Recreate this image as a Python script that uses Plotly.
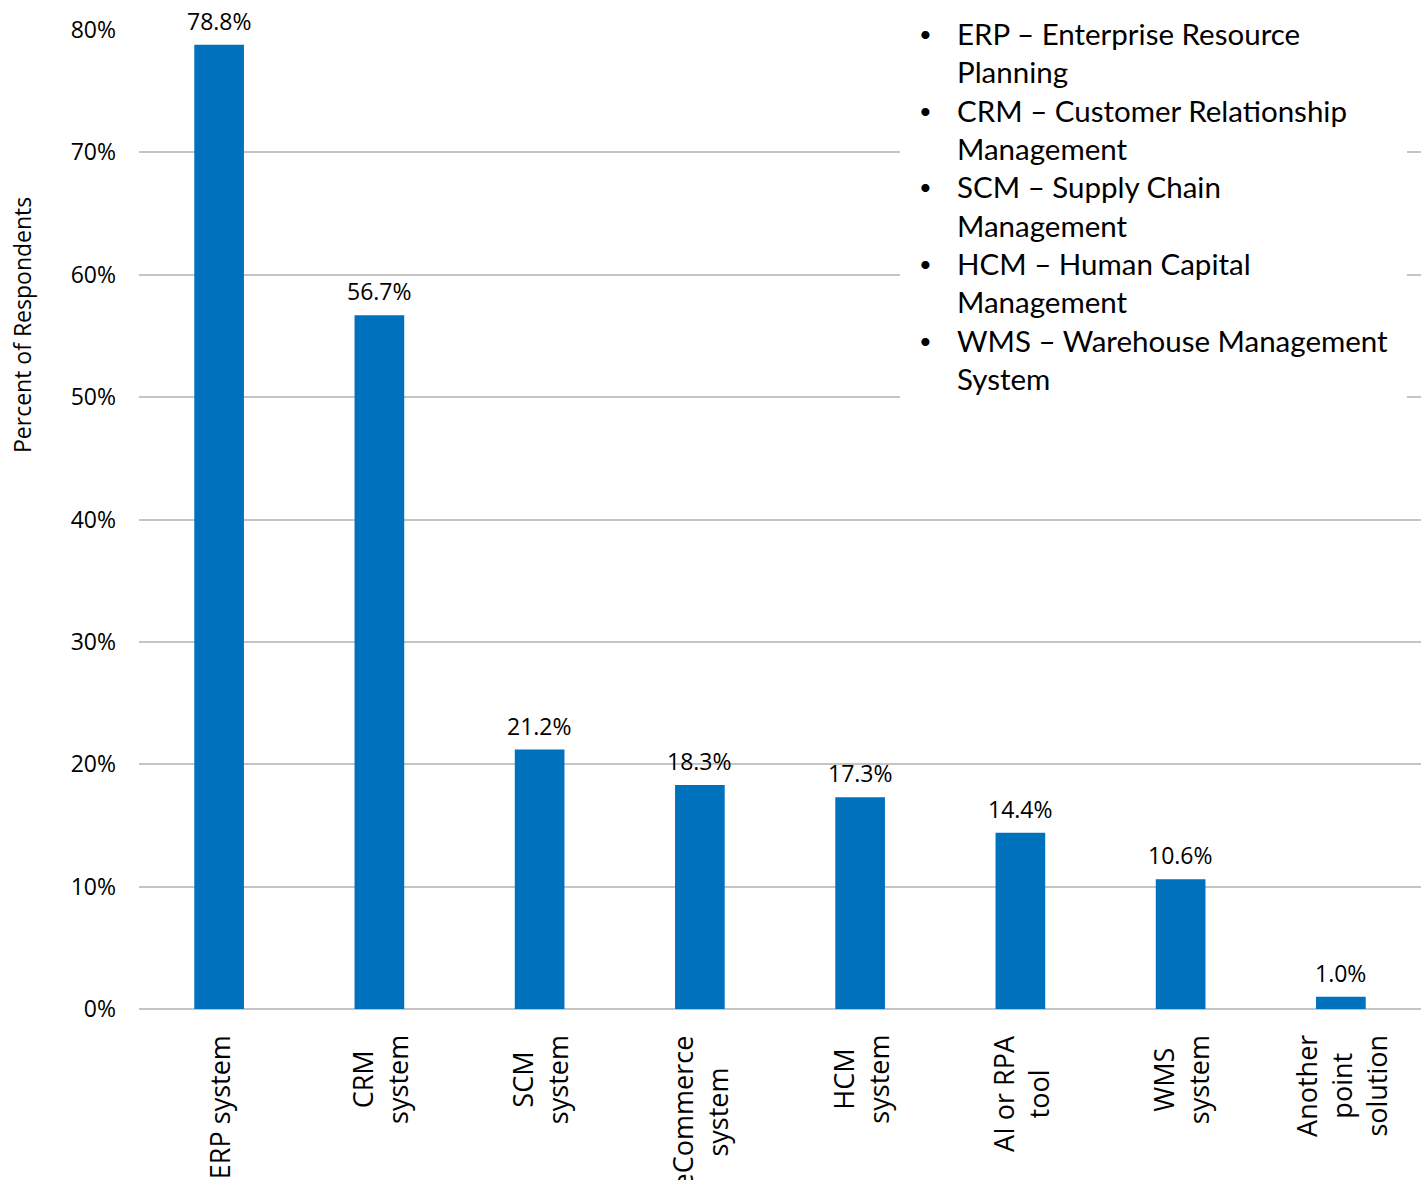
import plotly.graph_objects as go

# Survey results: share of respondents using each type of system
categories = ["ERP system", "CRM system", "SCM system", "eCommerce system",
              "HCM system", "AI or RPA tool", "WMS system", "Another point solution"]
category_labels = ["ERP system", "CRM<br>system", "SCM<br>system", "eCommerce<br>system",
                   "HCM<br>system", "AI or RPA<br>tool", "WMS<br>system",
                   "Another<br>point<br>solution"]
percent_values = [78.8, 56.7, 21.2, 18.3, 17.3, 14.4, 10.6, 1.0]
y_tick_values = [0, 10, 20, 30, 40, 50, 60, 70, 80]
y_tick_labels = ["0%", "10%", "20%", "30%", "40%", "50%", "60%", "70%", "80%"]
acronyms = [
    ("ERP \u2013 Enterprise Resource", "Planning"),
    ("CRM \u2013 Customer Relationship", "Management"),
    ("SCM \u2013 Supply Chain", "Management"),
    ("HCM \u2013 Human Capital", "Management"),
    ("WMS \u2013 Warehouse Management", "System"),
]

BAR_COLOR = "#0071BC"
GRID_COLOR = "#C4C4C4"
CHART_FONT = "Open Sans"
NOTE_FONT = "Lato"

W, H = 1421, 1180
ML, MR, MT, MB = 139, 0, 30, 171
pw, ph = W - ML - MR, H - MT - MB


def px_x(px):
    return (px - ML) / pw


def px_y(py):
    return (H - MB - py) / ph


fig = go.Figure()
fig.add_trace(go.Bar(
    x=categories,
    y=percent_values,
    marker=dict(color=BAR_COLOR, line=dict(width=0)),
    hoverinfo="skip",
))

annotations = []

# Value labels above each bar
for cat, val in zip(categories, percent_values):
    annotations.append(dict(
        x=cat, y=val, xref="x", yref="y",
        text=f"{val:.1f}%", showarrow=False,
        xanchor="center", yanchor="bottom", yshift=6,
        font=dict(family=CHART_FONT, size=23, color="#000000"),
    ))

# Rotated category labels below the axis
for cat, lab in zip(categories, category_labels):
    annotations.append(dict(
        x=cat, y=0, xref="x", yref="paper",
        text=lab, showarrow=False, textangle=-90, align="center",
        xanchor="center", yanchor="top", yshift=-24,
        font=dict(family=CHART_FONT, size=27, color="#000000"),
    ))

# Y-axis title
annotations.append(dict(
    x=px_x(22), y=px_y(325), xref="paper", yref="paper",
    text="Percent of Respondents", showarrow=False, textangle=-90,
    xanchor="center", yanchor="middle",
    font=dict(family=CHART_FONT, size=23, color="#000000"),
))

# Acronym notes (bullets + hanging-indented text)
note_lines = []
bullet_lines = []
for first, second in acronyms:
    note_lines += [first, second]
    bullet_lines += ['<span style="font-size:22px">\u2022</span>', "\u00a0"]

annotations.append(dict(
    x=px_x(955), y=px_y(14), xref="paper", yref="paper",
    text="<br>".join(note_lines), showarrow=False, align="left",
    xanchor="left", yanchor="top",
    font=dict(family=NOTE_FONT, size=29.5, color="#000000"),
))
annotations.append(dict(
    x=px_x(925), y=px_y(18), xref="paper", yref="paper",
    text="<br>".join(bullet_lines), showarrow=False, align="center",
    xanchor="center", yanchor="top",
    font=dict(family=NOTE_FONT, size=29.5, color="#000000"),
))

fig.update_layout(
    width=W, height=H,
    margin=dict(l=ML, r=MR, t=MT, b=MB, pad=0),
    paper_bgcolor="#FFFFFF", plot_bgcolor="#FFFFFF",
    bargap=0.69,
    showlegend=False,
    xaxis=dict(showticklabels=False, showgrid=False, zeroline=False,
               showline=False, ticks=""),
    yaxis=dict(range=[0, 80], tickvals=y_tick_values, ticktext=y_tick_labels,
               showgrid=True, gridcolor=GRID_COLOR, gridwidth=2,
               zeroline=True, zerolinecolor=GRID_COLOR, zerolinewidth=2,
               showline=False, ticks="", ticklabelstandoff=22,
               tickfont=dict(family=CHART_FONT, size=23, color="#000000")),
    annotations=annotations,
    shapes=[dict(
        type="rect", xref="paper", yref="paper", layer="above",
        x0=px_x(900), x1=px_x(1407), y0=px_y(405), y1=px_y(0),
        fillcolor="#FFFFFF", line=dict(width=0),
    )],
)

fig.write_html("out.html")
